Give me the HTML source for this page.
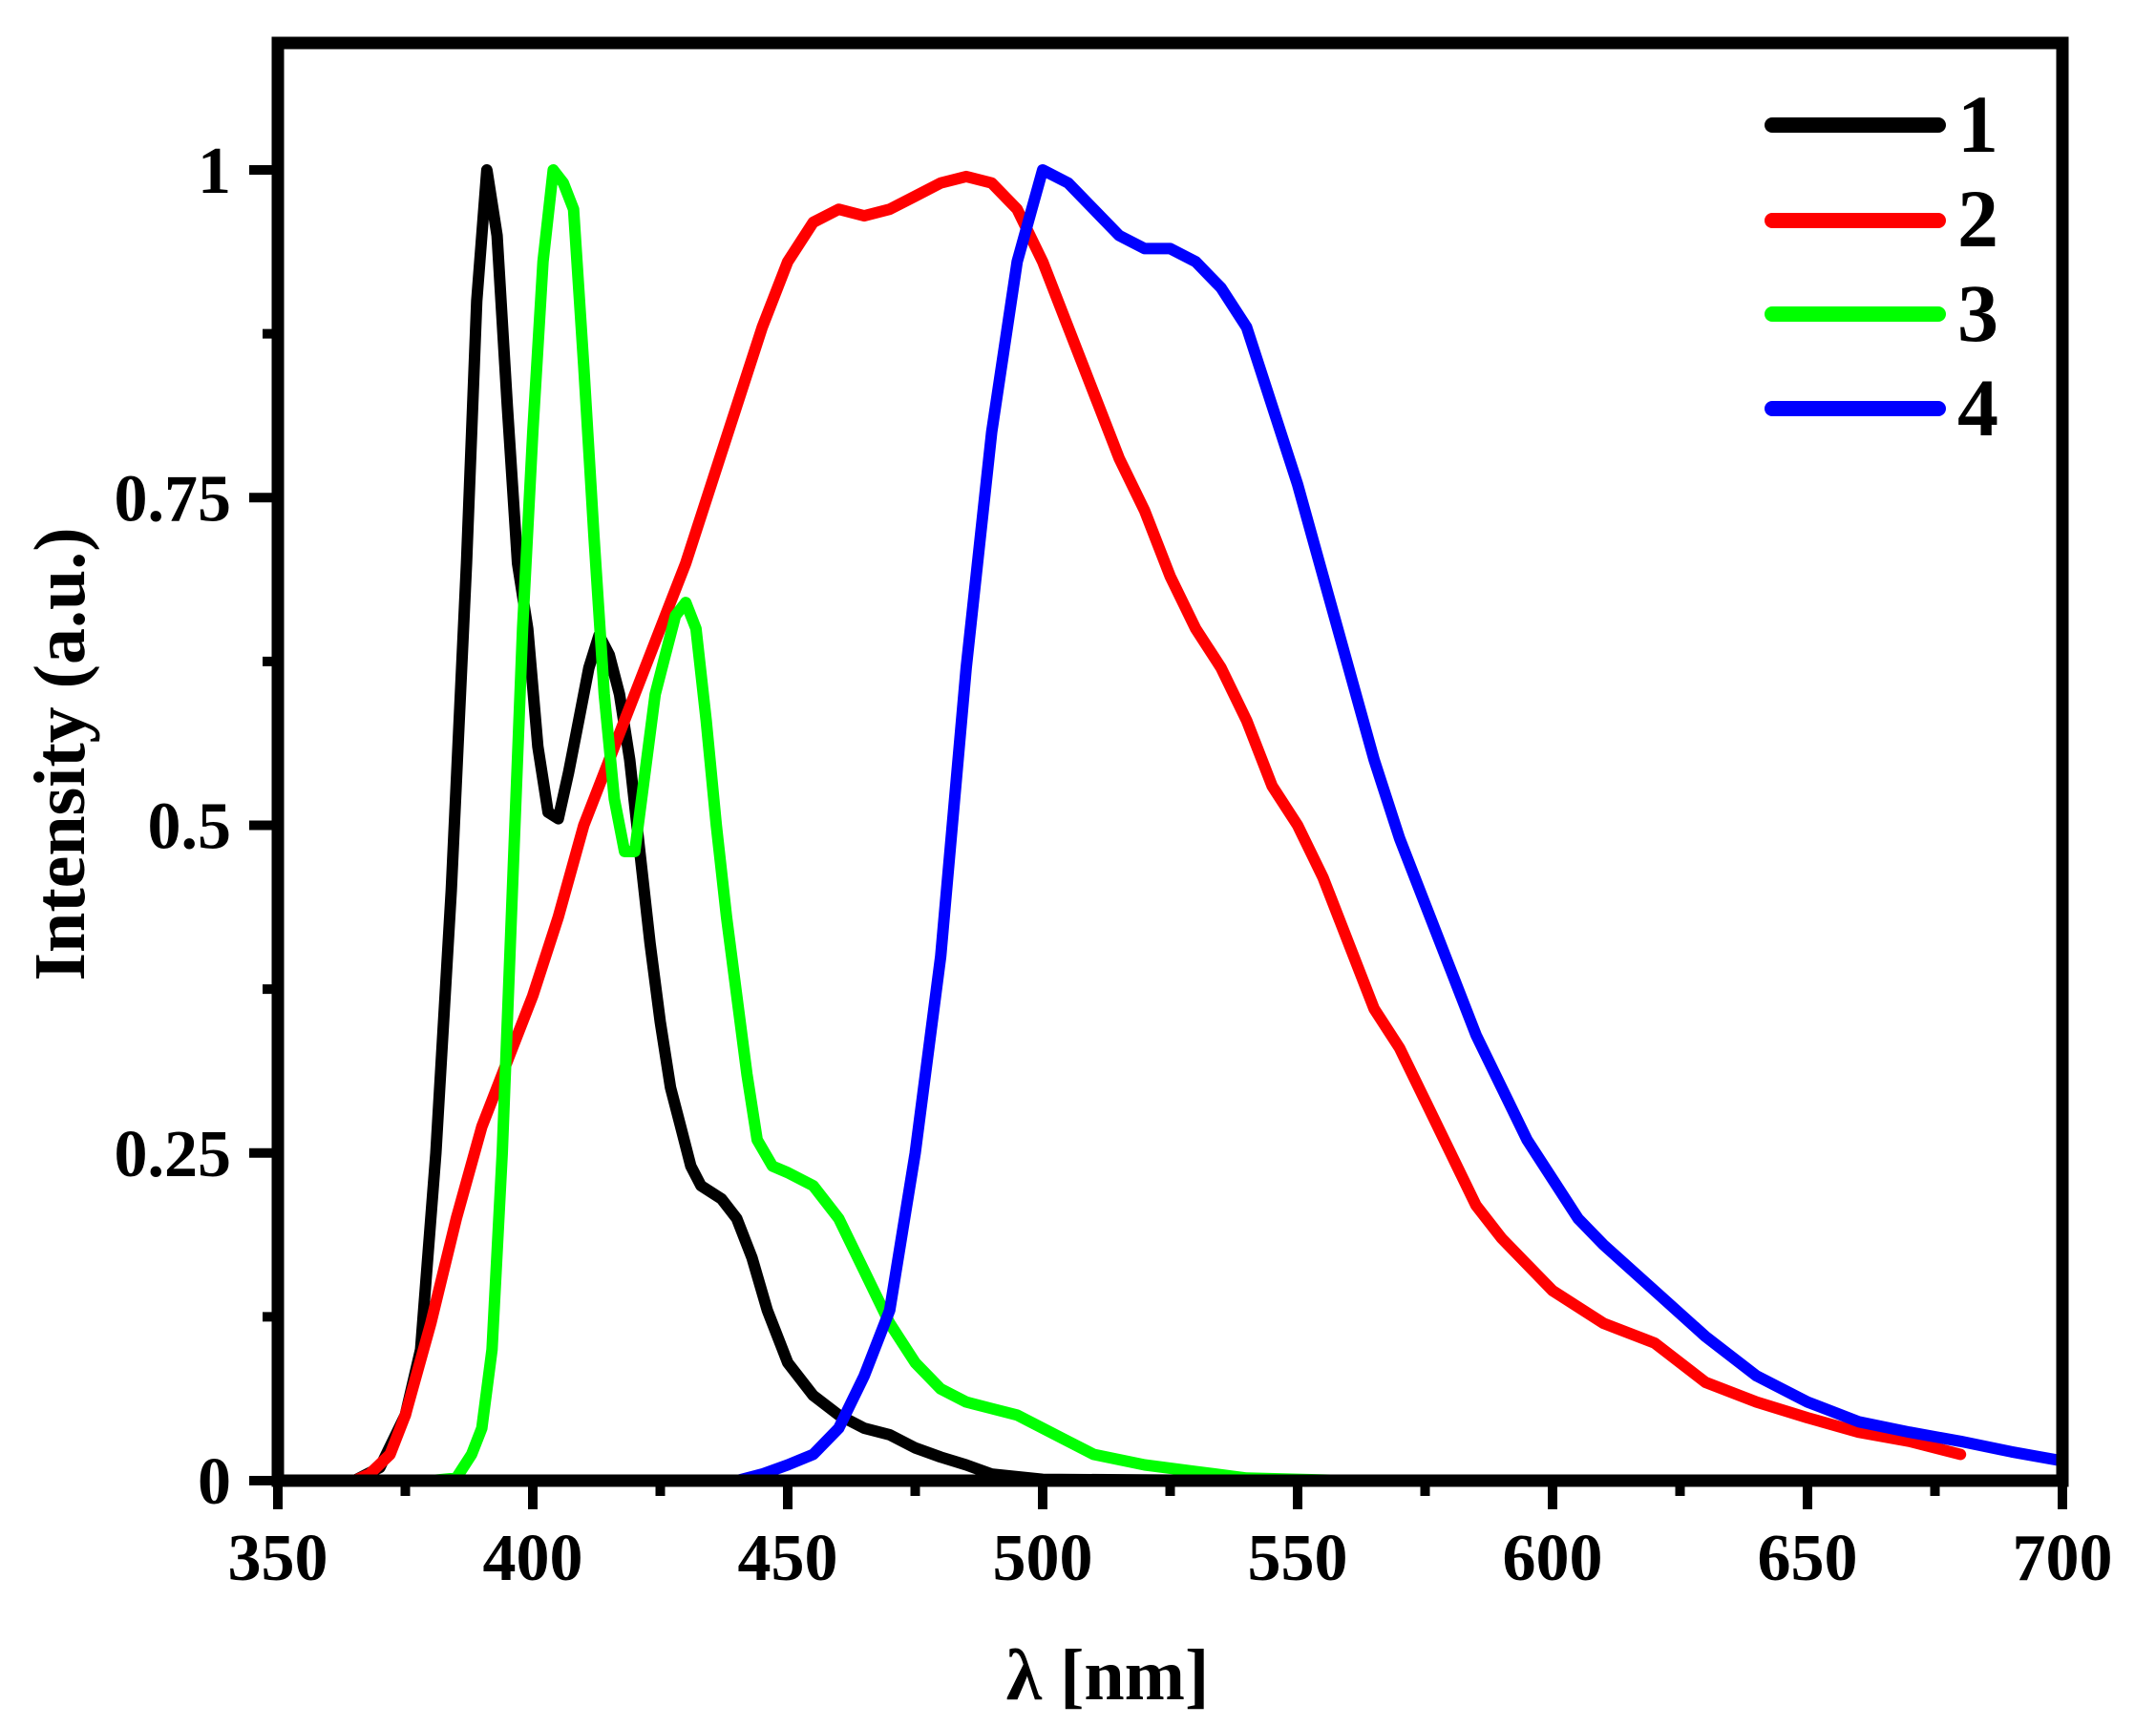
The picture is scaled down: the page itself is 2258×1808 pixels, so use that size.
<!DOCTYPE html>
<html><head><meta charset="utf-8"><style>
html,body{margin:0;padding:0;background:#fff;}
svg{display:block;}
text{font-family:"Liberation Serif",serif;font-weight:bold;fill:#000;}
</style></head><body>
<svg id="s" width="2258" height="1808" viewBox="0 0 2258 1808" xmlns="http://www.w3.org/2000/svg">
<defs><clipPath id="c"><rect x="291" y="45" width="1869" height="1506"/></clipPath></defs>
<g id="curves" clip-path="url(#c)" fill="none" stroke-width="12" stroke-linejoin="round" stroke-linecap="round"></g>
<g id="ticks" stroke="#000" stroke-width="10"></g>
<rect x="291" y="45" width="1869" height="1506" fill="none" stroke="#000" stroke-width="13"/>
<g id="labels" font-size="70"></g>
<text x="0" y="0" font-size="76" text-anchor="middle" transform="translate(88,790) rotate(-90)">Intensity (a.u.)</text>
<text x="1160" y="1780" font-size="76" text-anchor="middle">λ [nm]</text>
<g stroke-width="16" stroke-linecap="round">
<line x1="1856" y1="131" x2="2030" y2="131" stroke="#000"/>
<line x1="1856" y1="231" x2="2030" y2="231" stroke="#f00"/>
<line x1="1856" y1="329" x2="2030" y2="329" stroke="#0f0"/>
<line x1="1856" y1="428" x2="2030" y2="428" stroke="#00f"/>
</g>
<g font-size="86">
<text x="2050" y="159">1</text>
<text x="2050" y="258">2</text>
<text x="2050" y="357">3</text>
<text x="2050" y="456">4</text>
</g>
</svg>
<script>
var X=function(n){return 291+(n-350)*5.34;},Y=function(v){return 1551-v*1373;};
var data={
"#000":[[350,0],[365,0],[370,0.01],[375,0.05],[378,0.1],[381,0.25],[384,0.45],[387,0.7],[389,0.9],[391,1.0],[393,0.95],[395,0.82],[397,0.7],[399,0.65],[401,0.56],[403,0.51],[405,0.505],[407,0.54],[409,0.58],[411,0.62],[413,0.645],[415,0.63],[417,0.6],[419,0.55],[421,0.48],[423,0.41],[425,0.35],[427,0.3],[429,0.27],[431,0.24],[433,0.225],[437,0.215],[440,0.2],[443,0.17],[446,0.13],[450,0.09],[455,0.065],[460,0.05],[465,0.04],[470,0.035],[475,0.025],[480,0.018],[485,0.012],[490,0.005],[500,0.001],[540,0]],
"#f00":[[350,0],[365,0],[368,0.005],[372,0.02],[375,0.05],[380,0.12],[385,0.2],[390,0.27],[395,0.32],[400,0.37],[405,0.43],[410,0.5],[415,0.55],[420,0.6],[425,0.65],[430,0.7],[435,0.76],[440,0.82],[445,0.88],[450,0.93],[455,0.96],[460,0.97],[465,0.965],[470,0.97],[475,0.98],[480,0.99],[485,0.995],[490,0.99],[495,0.97],[500,0.93],[505,0.88],[510,0.83],[515,0.78],[520,0.74],[525,0.69],[530,0.65],[535,0.62],[540,0.58],[545,0.53],[550,0.5],[555,0.46],[560,0.41],[565,0.36],[570,0.33],[575,0.29],[580,0.25],[585,0.21],[590,0.185],[595,0.165],[600,0.145],[610,0.12],[620,0.105],[630,0.075],[640,0.06],[650,0.048],[660,0.037],[670,0.03],[680,0.02]],
"#0f0":[[380,0],[385,0.002],[388,0.02],[390,0.04],[392,0.1],[394,0.25],[396,0.45],[398,0.65],[400,0.8],[402,0.93],[404,1.0],[406,0.99],[408,0.97],[410,0.85],[412,0.72],[414,0.6],[416,0.52],[418,0.48],[420,0.48],[422,0.54],[424,0.6],[426,0.63],[428,0.66],[430,0.67],[432,0.65],[434,0.58],[436,0.5],[438,0.43],[440,0.37],[442,0.31],[444,0.26],[447,0.24],[450,0.235],[455,0.225],[460,0.2],[465,0.16],[470,0.12],[475,0.09],[480,0.07],[485,0.06],[490,0.055],[495,0.05],[500,0.04],[505,0.03],[510,0.02],[520,0.012],[530,0.007],[540,0.002],[560,0],[700,0]],
"#00f":[[440,0],[445,0.005],[450,0.012],[455,0.02],[460,0.04],[465,0.08],[470,0.13],[475,0.25],[480,0.4],[485,0.62],[490,0.8],[495,0.93],[500,1.0],[505,0.99],[510,0.97],[515,0.95],[520,0.94],[525,0.94],[530,0.93],[535,0.91],[540,0.88],[545,0.82],[550,0.76],[555,0.69],[560,0.62],[565,0.55],[570,0.49],[575,0.44],[580,0.39],[585,0.34],[590,0.3],[595,0.26],[600,0.23],[605,0.2],[610,0.18],[620,0.145],[630,0.11],[640,0.08],[650,0.06],[660,0.045],[670,0.037],[680,0.03],[690,0.022],[700,0.015]]
};
var ns="http://www.w3.org/2000/svg",g=document.getElementById("curves");
for(var col in data){var p=document.createElementNS(ns,"polyline");
p.setAttribute("points",data[col].map(function(d){return X(d[0]).toFixed(1)+","+Y(d[1]).toFixed(1);}).join(" "));
p.setAttribute("stroke",col);g.appendChild(p);}
var t=document.getElementById("ticks"),L=document.getElementById("labels");
function line(a,b,c,d){var l=document.createElementNS(ns,"line");l.setAttribute("x1",a);l.setAttribute("y1",b);l.setAttribute("x2",c);l.setAttribute("y2",d);t.appendChild(l);}
function txt(x,y,s,anc){var e=document.createElementNS(ns,"text");e.setAttribute("x",x);e.setAttribute("y",y);e.setAttribute("text-anchor",anc);e.textContent=s;L.appendChild(e);}
for(var n=350;n<=700;n+=25){var x=X(n),maj=(n%50==0);line(x,1551,x,1551+(maj?30:16));if(maj)txt(x,1655,""+n,"middle");}
var yl={0:"0",0.25:"0.25",0.5:"0.5",0.75:"0.75",1:"1"};
for(var i=0;i<=8;i++){var v=i*0.125,y=Y(v),maj=(i%2==0);line(291,y,291-(maj?30:16),y);if(maj)txt(242,y+24,yl[v],"end");}
</script>
</body></html>
